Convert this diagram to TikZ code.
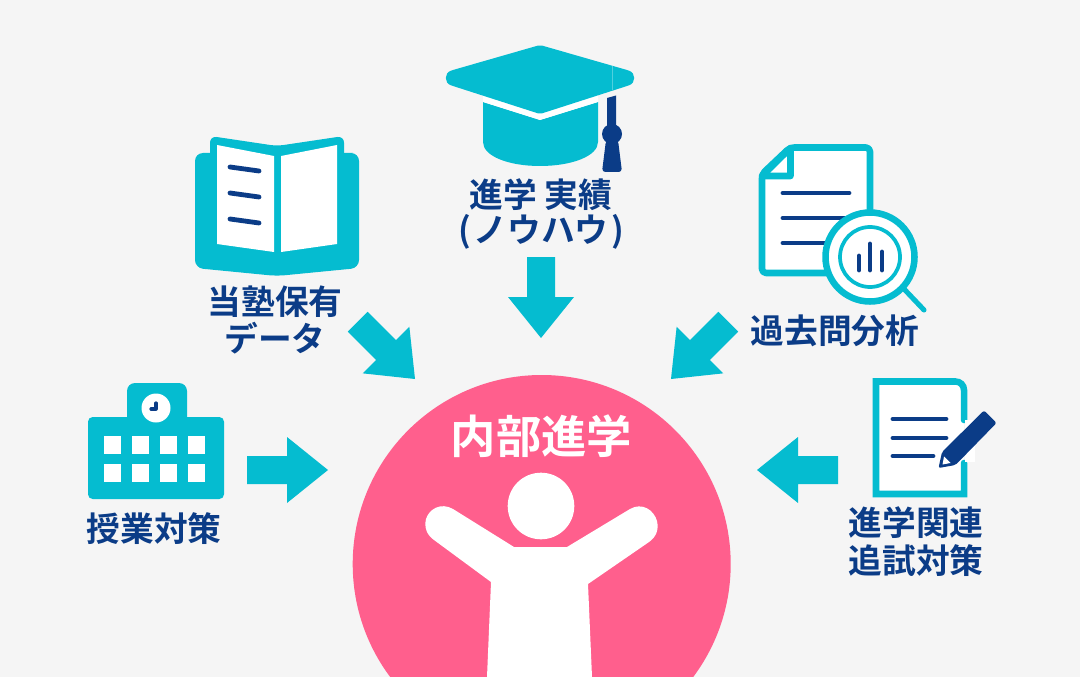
\documentclass[tikz,border=0pt]{standalone}
\usepackage{fontspec}
\newfontfamily\cjk[BoldFont={Noto Sans CJK JP Bold}]{Noto Sans CJK JP}
\definecolor{teal1}{HTML}{05BCD0}
\definecolor{navy1}{HTML}{0B3C87}
\definecolor{pink1}{HTML}{FF5F8D}
\definecolor{bg1}{HTML}{F5F5F5}
\tikzset{
  lbl/.style={text=navy1,font=\cjk\bfseries\fontsize{25.3}{28}\selectfont,inner sep=0pt,anchor=center},
  tealfill/.style={fill=teal1,draw=none},
  navyline/.style={draw=navy1,line width=3.6pt,line cap=round},
  docstroke/.style={draw=teal1,line width=4.9pt,line join=round,line cap=round},
  pics/bigarrow/.style={code={\fill[teal1] (-81,-14)--(-41,-14)--(-41,-33)--(0,0)--(-41,33)--(-41,14)--(-81,14)--cycle;}}
}
\begin{document}
\begin{tikzpicture}[x=0.75pt,y=-0.75pt]
\useasboundingbox (0,0) rectangle (1080,677);
\fill[bg1] (0,0) rectangle (1080,677);
% centre
\begin{scope}
\clip (0,0) rectangle (1080,676);
\fill[pink1] (541.7,564) circle[radius=189];
\fill[white] (541,506) circle[radius=33.3];
\fill[white] (514,547)--(567,547)--(630,509)
  .. controls (642,502) and (654,510) .. (657,521)
  .. controls (659,530) and (656,537) .. (649,542)
  --(588,584)--(592,677)--(487,677)--(491,582)--(434,540)
  .. controls (427,535) and (424,528) .. (426,519)
  .. controls (429,509) and (441,502) .. (453,509)--cycle;
\end{scope}
\node[font=\cjk\bfseries\fontsize{34}{36}\selectfont,text=white,inner sep=0pt] (main) at (541.5,436) {内部進学};
% arrows
\pic at (541,338) [rotate=-90] {bigarrow};
\pic at (415,379) [rotate=-45] {bigarrow};
\pic at (671,379) [rotate=-135] {bigarrow};
\pic at (328,470) {bigarrow};
\pic at (757,470) [rotate=180] {bigarrow};
% cap
\fill[teal1] (483,102)--(540,120)--(598,102)--(598,142)
  .. controls (598,156) and (572,166) .. (540,166)
  .. controls (508,166) and (483,156) .. (483,142)--cycle;
\fill[white] (483,95)--(540,112)--(598,95)--(598,102)--(540,120)--(483,102)--cycle;
\fill[teal1,rounded corners=1.5pt] (540,45)--(453,70)
  .. controls (444,73) and (444,83) .. (453,86)
  --(540,114)--(627,86)
  .. controls (636,83) and (636,73) .. (627,70)--cycle;
\draw[teal1!70!white,line width=0.5pt] (612.5,66)--(612.5,90);
\fill[navy1] (607,98)--(616,95.5)--(616,130)--(607,130)--cycle;
\fill[navy1] (612,134) circle[radius=10];
\fill[navy1,rounded corners=2.5pt] (606,140)--(618,140)--(622,172)--(602,172)--cycle;
\node[lbl] (l1a) at (541,195) {進学 実績};
\node[lbl] (l1b) at (541,232) {(\kern2pt ノウハウ\kern2pt )};
% book
\fill[teal1,rounded corners=6pt] (195,153)--(215,153)--(345,153)--(359,153)--(359,268)--(277,276)--(195,268)--cycle;
\fill[teal1,rounded corners=5pt] (210,136)--(277,146)--(344,136)--(344,170)--(210,170)--cycle;
\fill[white] (217,145)--(274,156)--(274,252)--(217,244)--cycle;
\fill[white] (281,156)--(337,145)--(337,244)--(281,252)--cycle;
\draw[navyline] (230,167)--(259,171);
\draw[navyline] (230,193)--(259,197);
\draw[navyline] (230,219)--(259,223);
\node[lbl] (l2a) at (275,302) {当塾保有};
\node[lbl] (l2b) at (275,338) {データ};
% analysis doc
\draw[docstroke,fill=white,rounded corners=3pt] (762,174)--(790,147.5)--(870,147.5)--(870,273)--(762,273)--cycle;
\draw[docstroke,fill=white] (762,176)--(790.5,148)--(790.5,176)--cycle;
\draw[navyline] (783,193)--(849,193);
\draw[navyline] (783,218)--(850,218);
\draw[navyline] (783,243)--(850,243);
\draw[draw=teal1,line width=3.8pt,line cap=round] (905,290)--(924,310);
\draw[docstroke,fill=white] (870,257) circle[radius=44.5];
\draw[draw=teal1,line width=2.8pt] (870,257) circle[radius=30];
\draw[navyline] (859,256)--(859,270);
\draw[navyline] (870,244)--(870,270);
\draw[navyline] (882,252)--(882,270);
\node[lbl] (l3) at (835,331) {過去問分析};
% school
\fill[teal1,rounded corners=6pt] (127,425)--(127,383)--(187,383)--(187,425)--cycle;
\fill[teal1,rounded corners=3.5pt] (88,417)--(224,417)--(224,499)--(88,499)--cycle;
\fill[white] (156,408) circle[radius=14.5];
\draw[navy1,line width=2.4pt,line cap=round,line join=round] (156,403)--(156,409)--(151,409);
\foreach \wx in {104,132,160,188}{
  \fill[white] (\wx,436) rectangle ++(17,18);
  \fill[white] (\wx,464) rectangle ++(17,17.5);
}
\node[lbl] (l4) at (154,529) {授業対策};
% follow-up doc
\fill[white] (876,381.5)--(955.5,381.5) .. controls (960,381.5) and (964,385) .. (964,390)--(964,494)--(876,494)--cycle;
\draw[docstroke,line join=miter] (964,420)--(964,390) .. controls (964,385) and (960,381.5) .. (955.5,381.5)--(876,381.5)--(876,494)--(964,494)--(964,463);
\draw[navyline] (893,419)--(946,419);
\draw[navyline] (893,438)--(946,438);
\draw[navyline] (893,456)--(933,456);
\fill[white] (965,420)--(975,420)--(975,462)--(965,462)--cycle;
\fill[navy1,rounded corners=1.5pt] (984,410.5)--(996.5,423)--(955.5,465)--(938.5,468)--(942,452)--cycle;
\fill[white] (944,456.5)--(950.5,463)--(942.5,464.5)--cycle;
\node[lbl] (l5a) at (916,523) {進学関連};
\node[lbl] (l5b) at (916,561) {追試対策};
\end{tikzpicture}
\end{document}
